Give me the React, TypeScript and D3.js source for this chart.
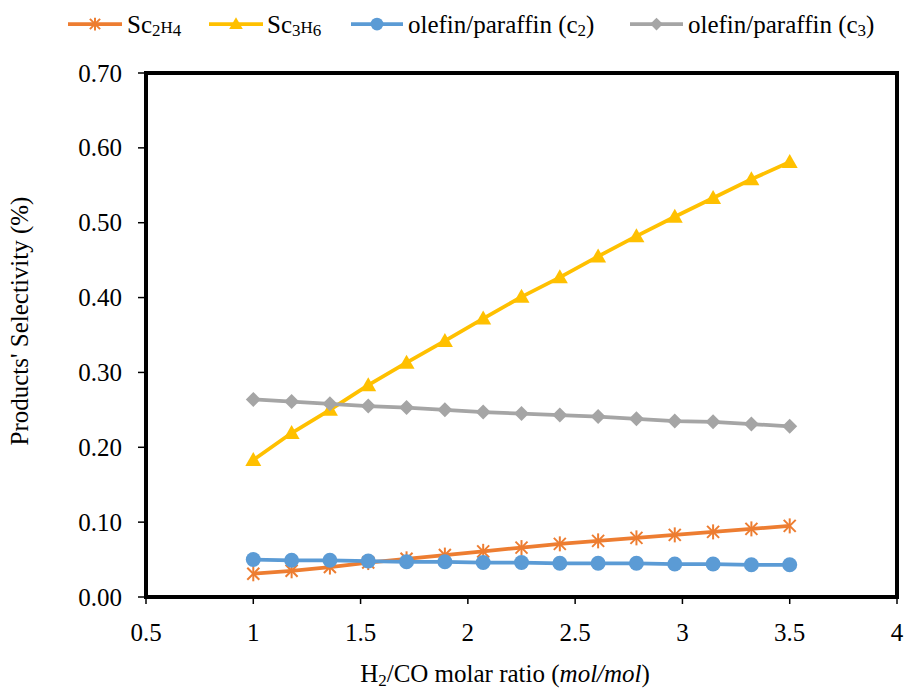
import React from "react";
import * as d3 from "d3";

const xValues = [1, 1.1786, 1.3571, 1.5357, 1.7143, 1.8929, 2.0714, 2.25, 2.4286, 2.6071, 2.7857, 2.9643, 3.1429, 3.3214, 3.5];
const scC2H4 = [0.031, 0.035, 0.040, 0.046, 0.051, 0.056, 0.061, 0.066, 0.071, 0.075, 0.079, 0.083, 0.087, 0.091, 0.095];
const scC3H6 = [0.183, 0.219, 0.250, 0.283, 0.313, 0.342, 0.372, 0.401, 0.427, 0.455, 0.482, 0.508, 0.533, 0.558, 0.581];
const opC2 = [0.050, 0.049, 0.049, 0.048, 0.047, 0.047, 0.046, 0.046, 0.045, 0.045, 0.045, 0.044, 0.044, 0.043, 0.043];
const opC3 = [0.264, 0.261, 0.258, 0.255, 0.253, 0.250, 0.247, 0.245, 0.243, 0.241, 0.238, 0.235, 0.234, 0.231, 0.228];
const xTicks = [0.5, 1, 1.5, 2, 2.5, 3, 3.5, 4];
const yTicks = [0, 0.1, 0.2, 0.3, 0.4, 0.5, 0.6, 0.7];

const W = 904, H = 689;
const L = 146, R = 897, T = 73, B = 597;
const FONT = "Liberation Serif";
const FS = 25;
const SUB = 17;

const series = [
  { key: "c2h4", values: scC2H4, color: "#ED7D31", marker: "star" },
  { key: "c3h6", values: scC3H6, color: "#FFC000", marker: "triangle" },
  { key: "c2", values: opC2, color: "#5B9BD5", marker: "circle" },
  { key: "c3", values: opC3, color: "#A5A5A5", marker: "diamond" },
];

function Marker({ type, x, y, color, k = 1 }: { type: string; x: number; y: number; color: string; k?: number }) {
  if (type === "star") {
    const s = 7.5 * k;
    const d = s * 0.8;
    return (
      <g stroke={color} strokeWidth={2}>
        <line x1={x} y1={y - s} x2={x} y2={y + s} />
        <line x1={x - d} y1={y - d} x2={x + d} y2={y + d} />
        <line x1={x - d} y1={y + d} x2={x + d} y2={y - d} />
      </g>
    );
  }
  if (type === "triangle") {
    const s = 8 * k;
    return <path d={`M${x},${y - s}L${x + s},${y + s * 0.75}L${x - s},${y + s * 0.75}Z`} fill={color} />;
  }
  if (type === "circle") {
    return <circle cx={x} cy={y} r={7.5 * k} fill={color} />;
  }
  const s = 7.5 * k;
  return <path d={`M${x},${y - s}L${x + s},${y}L${x},${y + s}L${x - s},${y}Z`} fill={color} />;
}

function T_({ children, ...rest }: any) {
  return (
    <text fontFamily={FONT} fontSize={FS} fill="#000" style={{ fontFamily: FONT, fontSize: FS }} {...rest}>
      {children}
    </text>
  );
}

export default function App() {
  const x = d3.scaleLinear().domain([0.5, 4]).range([L, R]);
  const y = d3.scaleLinear().domain([0, 0.7]).range([B, T]);
  const line = d3.line<number>();

  const legend = [
    { color: "#ED7D31", marker: "star", x1: 68, x2: 122, tx: 127, label: "c2h4" },
    { color: "#FFC000", marker: "triangle", x1: 209, x2: 263, tx: 267, label: "c3h6" },
    { color: "#5B9BD5", marker: "circle", x1: 351, x2: 403, tx: 408, label: "c2" },
    { color: "#A5A5A5", marker: "diamond", x1: 630, x2: 683, tx: 688, label: "c3" },
  ];
  const ly = 24;
  const lb = 33;

  const labelFor = (k: string, tx: number) => {
    if (k === "c2h4" || k === "c3h6") {
      const n = k === "c2h4" ? "2" : "3";
      const m = k === "c2h4" ? "4" : "6";
      return (
        <T_ x={tx} y={lb}>
          Sc<tspan fontSize={SUB} dy={3}>{n}</tspan>
          <tspan fontSize={SUB} dy={-3}>H</tspan>
          <tspan fontSize={SUB} dy={3}>{m}</tspan>
        </T_>
      );
    }
    const n = k === "c2" ? "2" : "3";
    return (
      <T_ x={tx} y={lb}>
        olefin/paraffin (c<tspan fontSize={SUB} dy={3}>{n}</tspan>
        <tspan dy={-3}>)</tspan>
      </T_>
    );
  };

  return (
    <svg width={W} height={H} fontFamily={FONT} style={{ position: "absolute", left: 0, top: 0, background: "#fff", fontFamily: FONT }}>
      <style>{`svg text, svg tspan { font-family: "Liberation Serif", "Times New Roman", Tinos, Times, serif !important; }`}</style>
      <rect x={0} y={0} width={W} height={H} fill="#fff" />
      {series.map((s) => {
        const pts = s.values.map((v, i) => [x(xValues[i]), y(v)] as [number, number]);
        return (
          <g key={s.key}>
            <path d={line(pts) || ""} fill="none" stroke={s.color} strokeWidth={3.75} strokeLinejoin="round" />
            {pts.map((p, i) => (
              <Marker key={i} type={s.marker} x={p[0]} y={p[1]} color={s.color} />
            ))}
          </g>
        );
      })}
      <rect x={L} y={T} width={R - L} height={B - T} fill="none" stroke="#000" strokeWidth={4} />
      {yTicks.map((t) => (
        <g key={t}>
          <line x1={L - 8} x2={L} y1={y(t)} y2={y(t)} stroke="#000" strokeWidth={1.5} />
          <T_ x={122} y={y(t) + 8.5} textAnchor="end">
            {t.toFixed(2)}
          </T_>
        </g>
      ))}
      {xTicks.map((t) => (
        <g key={t}>
          <line x1={x(t)} x2={x(t)} y1={B} y2={B + 7} stroke="#000" strokeWidth={1.5} />
          <T_ x={x(t)} y={641} textAnchor="middle">
            {String(t)}
          </T_>
        </g>
      ))}
      <T_ x={505} y={682} textAnchor="middle">
        H<tspan fontSize={SUB} dy={4}>2</tspan>
        <tspan dy={-4}>/CO molar ratio (</tspan>
        <tspan fontStyle="italic">mol/mol</tspan>)
      </T_>
      <T_ transform={`translate(28, 321) rotate(-90)`} textAnchor="middle">
        Products' Selectivity (%)
      </T_>
      {legend.map((l) => (
        <g key={l.label}>
          <line x1={l.x1} x2={l.x2} y1={ly} y2={ly} stroke={l.color} strokeWidth={3.75} />
          <Marker type={l.marker} x={(l.x1 + l.x2) / 2} y={ly} color={l.color} k={0.85} />
          {labelFor(l.label, l.tx)}
        </g>
      ))}
    </svg>
  );
}
